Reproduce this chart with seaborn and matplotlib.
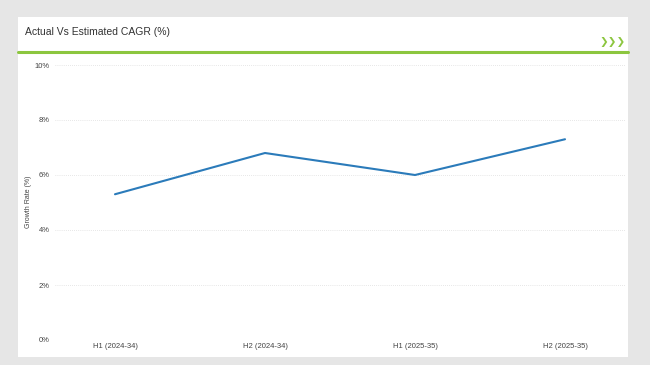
import pandas as pd
import numpy as np

import matplotlib
matplotlib.use("Agg")
import matplotlib.pyplot as plt
import seaborn as sns
from matplotlib.patches import Rectangle
from matplotlib.lines import Line2D

periods = ["H1 (2024-34)", "H2 (2024-34)", "H1 (2025-35)", "H2 (2025-35)"]
growth = [5.3, 6.8, 6.0, 7.3]
yticks = [0, 2, 4, 6, 8, 10]

df = pd.DataFrame({"period": periods, "growth": growth})

sns.set_style("white")
plt.rcParams['font.family'] = ['Liberation Sans Narrow', 'Liberation Sans', 'DejaVu Sans']

W, H = 650, 365
fig = plt.figure(figsize=(W / 100, H / 100), dpi=100)
fig.patch.set_facecolor("#e6e6e6")

# white card
fig.patches.append(Rectangle((18 / W, 1 - 357 / H), (628 - 18) / W, (357 - 17) / H,
                             transform=fig.transFigure, facecolor="white", edgecolor="none", zorder=-5))
# green rule under the header
fig.lines.append(Line2D([18 / W, 628 / W], [1 - 52 / H, 1 - 52 / H], transform=fig.transFigure,
                        color="#8cc63f", lw=2.2))
fig.text(25 / W, 1 - 32 / H, "Actual Vs Estimated CAGR (%)", fontsize=7.5, color="#333333",
         va="center", ha="left")
fig.text(626 / W, 1 - 42 / H, "\u276f\u276f\u276f", fontsize=7.5, color="#8cc63f",
         family="DejaVu Sans", fontweight="bold", va="center", ha="right")
fig.text(28 / W, 1 - 202 / H, "Growth Rate (%)", fontsize=5, color="#444444",
         rotation=90, va="center", ha="center")

ax = fig.add_axes([55 / W, 1 - 340 / H, (625 - 55) / W, (340 - 65) / H])
ax.set_facecolor("none")
x = np.arange(len(periods))
sns.lineplot(x=x, y=df["growth"], ax=ax, color="#2b7bba", linewidth=1.5)

ax.set_xlim(-0.4, len(periods) - 0.6)
ax.set_ylim(0, 10)
ax.set_xticks(x)
ax.set_xticklabels(periods, fontsize=5.5, color="#444444")
ax.set_yticks(yticks)
ax.set_yticklabels([f"{v}%" for v in yticks], fontsize=5.5, color="#444444")
ax.tick_params(axis="both", length=0, pad=2)
ax.tick_params(axis="y", pad=4)
ax.grid(axis="y", linestyle=(0, (1, 2)), color="#d0d0d0", linewidth=0.5)
ax.set_axisbelow(True)
for s in ax.spines.values():
    s.set_visible(False)
ax.set_xlabel("")
ax.set_ylabel("")

fig.savefig("out.png", dpi=100, facecolor=fig.get_facecolor())
